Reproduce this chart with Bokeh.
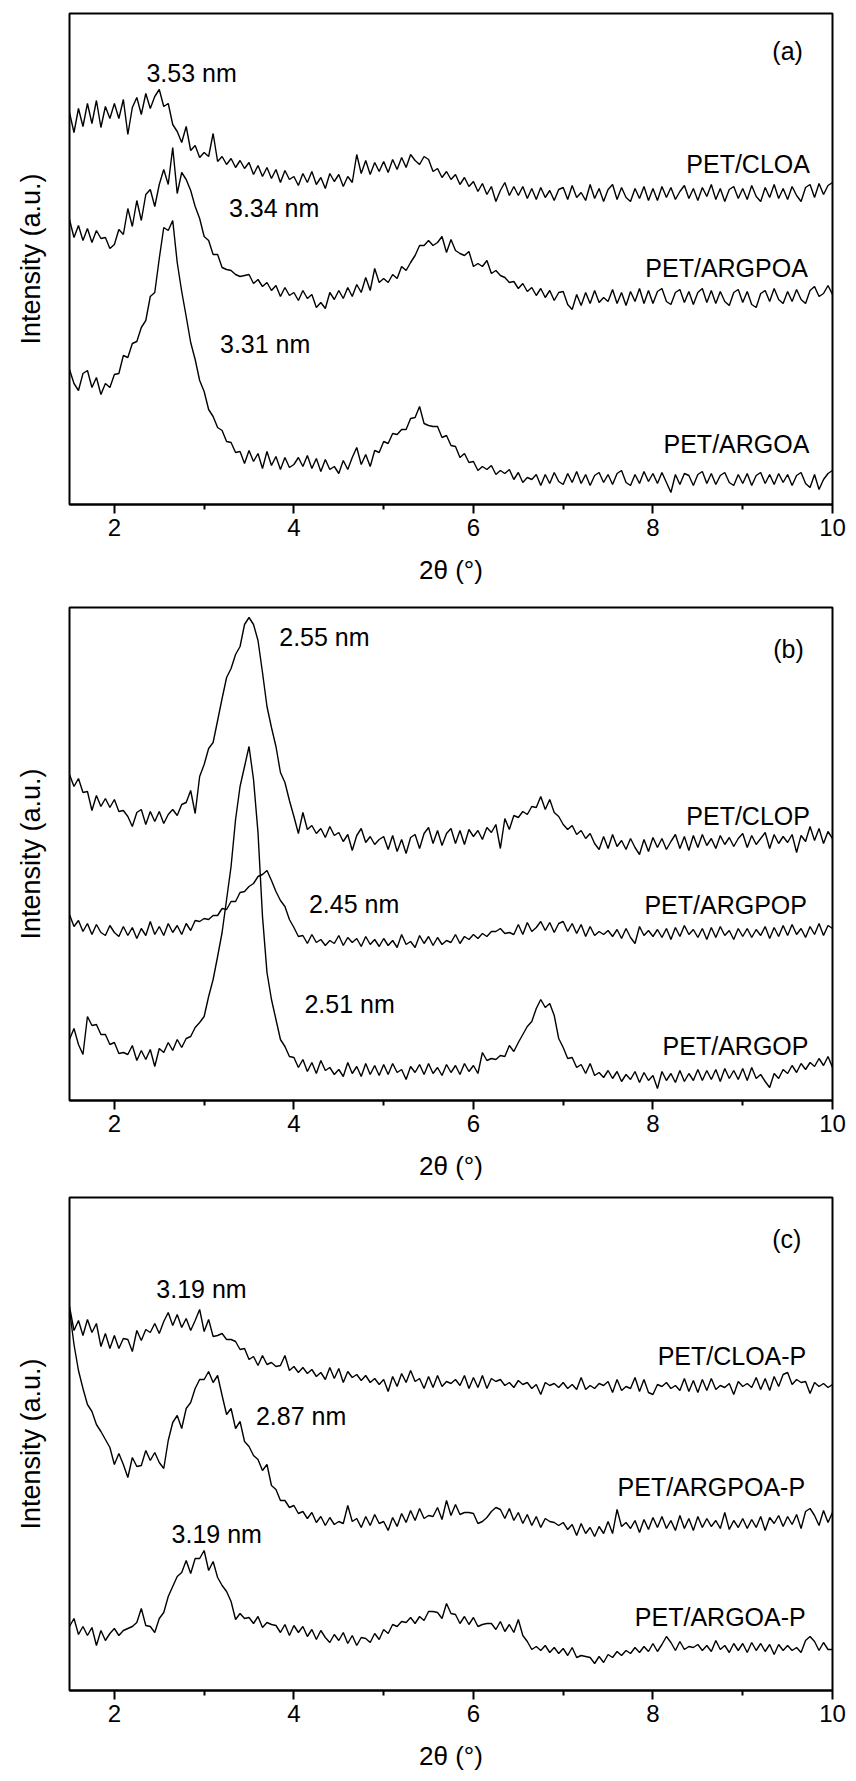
from bokeh.plotting import figure
from bokeh.layouts import column
from bokeh.models import Range1d, FixedTicker, ColumnDataSource
from bokeh.core.properties import value
from bokeh.embed import file_html
from bokeh.resources import INLINE

# 2-theta grid (degrees), step 0.05 from 1.5 to 10
two_theta = [round(1.5 + 0.05 * i, 2) for i in range(171)]

# Intensities (arbitrary units, stacked/offset as in the figure)
# ---- panel (a) ----
pet_cloa = [
    392, 372, 396, 378, 401, 381, 404, 377, 398, 386,
    401, 386, 405, 370, 397, 407, 390, 411, 396, 408,
    415, 398, 401, 380, 373, 362, 378, 354, 359, 347,
    352, 348, 371, 343, 348, 340, 346, 337, 344, 336,
    342, 330, 339, 328, 337, 326, 335, 322, 334, 325,
    328, 319, 331, 322, 333, 320, 327, 316, 331, 323,
    330, 318, 328, 322, 350, 331, 344, 330, 342, 333,
    343, 332, 345, 335, 347, 337, 350, 344, 340, 348,
    345, 333, 336, 327, 333, 325, 330, 320, 327, 318,
    323, 313, 321, 310, 318, 303, 314, 322, 309, 318,
    309, 318, 306, 316, 305, 317, 307, 314, 304, 315,
    317, 305, 319, 307, 312, 304, 320, 306, 316, 303,
    315, 320, 305, 317, 307, 303, 316, 306, 318, 304,
    316, 304, 318, 307, 317, 305, 313, 319, 306, 316,
    304, 317, 308, 320, 305, 316, 303, 315, 318, 306,
    316, 305, 319, 308, 303, 317, 307, 320, 306, 316,
    305, 318, 309, 303, 317, 320, 307, 321, 310, 319,
    322,
]
pet_argpoa = [
    285, 267, 279, 264, 276, 262, 274, 266, 267, 256,
    260, 275, 270, 296, 278, 304, 284, 310, 315, 298,
    320, 335, 320, 357, 311, 332, 325, 314, 298, 286,
    268, 264, 250, 250, 237, 235, 234, 230, 228, 229,
    230, 221, 225, 218, 222, 214, 219, 208, 217, 209,
    212, 204, 214, 206, 210, 197, 202, 196, 212, 205,
    214, 206, 217, 208, 220, 212, 227, 214, 236, 222,
    226, 222, 230, 226, 238, 234, 242, 249, 259, 259,
    264, 259, 262, 268, 252, 265, 254, 251, 249, 253,
    238, 241, 238, 244, 231, 234, 229, 227, 222, 223,
    216, 221, 213, 217, 209, 216, 207, 214, 204, 212,
    213, 200, 195, 210, 199, 212, 201, 214, 202, 207,
    203, 215, 201, 212, 199, 213, 203, 216, 201, 214,
    201, 213, 216, 203, 200, 212, 215, 202, 213, 200,
    212, 216, 202, 214, 201, 213, 203, 199, 212, 215,
    202, 213, 200, 197, 211, 214, 203, 216, 205, 201,
    213, 203, 215, 205, 201, 214, 218, 208, 211, 219,
    210,
]
pet_argoa = [
    135, 121, 114, 131, 134, 117, 127, 110, 121, 117,
    130, 131, 149, 147, 161, 163, 177, 184, 208, 212,
    246, 277, 274, 284, 242, 213, 188, 162, 145, 124,
    113, 95, 88, 77, 74, 63, 62, 52, 53, 41,
    54, 43, 51, 36, 53, 39, 48, 35, 47, 37,
    40, 47, 38, 49, 36, 46, 33, 45, 35, 38,
    31, 44, 35, 47, 57, 40, 50, 38, 54, 52,
    63, 61, 71, 70, 75, 75, 86, 87, 98, 81,
    79, 78, 78, 67, 69, 59, 58, 47, 51, 42,
    43, 34, 38, 35, 39, 30, 34, 31, 35, 25,
    32, 22, 27, 25, 30, 19, 30, 21, 32, 23,
    20, 31, 22, 33, 21, 30, 19, 29, 32, 22,
    30, 20, 31, 34, 22, 19, 30, 21, 33, 23,
    31, 21, 32, 22, 12, 30, 20, 31, 29, 19,
    30, 33, 21, 31, 20, 29, 32, 22, 19, 30,
    21, 31, 19, 29, 32, 21, 30, 20, 31, 22,
    30, 19, 29, 32, 21, 17, 30, 15, 25, 31,
    34,
]
# ---- panel (b) ----
pet_clop = [
    326, 314, 322, 308, 309, 290, 305, 294, 302, 293,
    301, 289, 290, 284, 274, 288, 291, 276, 289, 279,
    289, 277, 286, 291, 285, 296, 298, 310, 287, 324,
    336, 352, 358, 380, 402, 423, 432, 446, 454, 476,
    483, 476, 460, 428, 394, 373, 354, 328, 318, 300,
    284, 267, 288, 271, 275, 267, 272, 263, 274, 265,
    268, 259, 266, 250, 265, 272, 258, 264, 256, 261,
    264, 251, 265, 249, 261, 247, 263, 266, 252, 267,
    273, 257, 270, 255, 267, 272, 257, 270, 256, 271,
    264, 270, 261, 273, 268, 276, 252, 282, 271, 285,
    283, 289, 286, 294, 293, 304, 291, 301, 288, 284,
    276, 271, 275, 266, 270, 262, 267, 257, 251, 264,
    252, 266, 254, 260, 251, 262, 253, 246, 261, 249,
    263, 253, 262, 251, 259, 266, 252, 264, 250, 265,
    253, 266, 255, 262, 252, 265, 256, 263, 254, 262,
    267, 253, 265, 256, 262, 268, 252, 266, 257, 264,
    258, 266, 248, 265, 259, 274, 260, 272, 257, 269,
    262,
]
pet_argpop = [
    186, 174, 180, 169, 177, 166, 176, 168, 165, 175,
    168, 164, 174, 165, 173, 162, 172, 165, 179, 166,
    174, 165, 177, 168, 175, 166, 177, 170, 180, 179,
    182, 181, 185, 185, 192, 191, 199, 199, 208, 209,
    214, 217, 224, 226, 230, 220, 209, 200, 194, 181,
    173, 164, 165, 157, 166, 158, 161, 155, 160, 157,
    165, 155, 163, 158, 162, 154, 164, 156, 161, 154,
    162, 155, 160, 153, 166, 156, 159, 153, 165, 157,
    164, 155, 163, 156, 160, 158, 166, 157, 164, 161,
    166, 162, 167, 164, 169, 169, 172, 167, 168, 166,
    176, 166, 178, 169, 173, 179, 170, 178, 168, 177,
    179, 169, 177, 167, 176, 164, 174, 165, 169, 166,
    170, 164, 171, 162, 172, 163, 157, 174, 165, 170,
    164, 171, 163, 172, 161, 173, 164, 175, 166, 171,
    163, 172, 161, 173, 163, 174, 165, 170, 161, 172,
    164, 172, 163, 171, 165, 174, 162, 173, 164, 175,
    165, 176, 166, 172, 163, 174, 166, 177, 165, 175,
    172,
]
pet_argop = [
    61, 72, 56, 46, 84, 75, 76, 66, 66, 56,
    58, 47, 48, 46, 55, 40, 50, 41, 51, 34,
    52, 48, 58, 50, 61, 53, 62, 64, 73, 78,
    84, 104, 121, 144, 168, 201, 234, 281, 314, 334,
    354, 321, 268, 184, 128, 101, 81, 61, 54, 44,
    43, 33, 41, 29, 38, 27, 40, 30, 33, 26,
    31, 24, 38, 27, 34, 24, 37, 26, 35, 25,
    36, 26, 37, 28, 31, 21, 34, 28, 36, 26,
    37, 27, 33, 25, 36, 28, 35, 26, 37, 29,
    35, 27, 48, 40, 42, 41, 45, 44, 55, 49,
    58, 66, 74, 79, 92, 101, 93, 97, 85, 62,
    53, 42, 43, 33, 36, 27, 37, 25, 28, 23,
    30, 22, 29, 19, 26, 21, 29, 18, 28, 20,
    25, 12, 29, 20, 27, 18, 30, 19, 27, 20,
    31, 20, 30, 21, 31, 19, 32, 22, 30, 21,
    32, 20, 33, 22, 26, 19, 13, 27, 22, 31,
    27, 35, 28, 37, 31, 38, 34, 42, 35, 44,
    33,
]
# ---- panel (c) ----
pet_cloa_p = [
    384, 360, 370, 355, 371, 358, 367, 344, 357, 342,
    355, 342, 352, 351, 339, 360, 350, 361, 358, 367,
    357, 369, 378, 365, 376, 363, 372, 360, 370, 381,
    359, 371, 354, 355, 357, 351, 351, 349, 341, 342,
    331, 334, 325, 335, 326, 328, 324, 325, 335, 320,
    324, 318, 323, 317, 321, 314, 318, 311, 323, 312,
    322, 308, 319, 313, 316, 310, 315, 308, 312, 306,
    311, 299, 314, 304, 317, 308, 320, 309, 312, 302,
    314, 303, 315, 304, 309, 307, 311, 305, 315, 302,
    313, 303, 315, 302, 312, 309, 311, 305, 308, 303,
    310, 306, 308, 302, 306, 296, 308, 305, 307, 303,
    308, 302, 306, 301, 313, 301, 305, 302, 307, 305,
    309, 298, 311, 300, 304, 302, 313, 299, 311, 298,
    296, 306, 304, 308, 302, 305, 300, 312, 299, 310,
    298, 311, 300, 312, 301, 305, 303, 307, 296, 309,
    304, 307, 303, 313, 301, 312, 300, 314, 304, 316,
    318, 306, 311, 308, 309, 297, 308, 304, 307, 303,
    306,
]
pet_argpoa_p = [
    381, 346, 320, 302, 286, 279, 266, 259, 251, 243,
    226, 237, 226, 213, 233, 224, 225, 240, 230, 238,
    228, 222, 250, 268, 275, 262, 282, 288, 302, 311,
    311, 319, 308, 315, 295, 276, 282, 262, 269, 249,
    244, 235, 231, 220, 226, 205, 201, 190, 190, 183,
    185, 177, 179, 172, 178, 168, 174, 165, 173, 166,
    169, 167, 185, 169, 172, 163, 174, 165, 176, 167,
    169, 160, 173, 164, 177, 168, 180, 170, 182, 172,
    175, 174, 183, 171, 190, 175, 186, 176, 178, 178,
    177, 167, 169, 173, 179, 183, 181, 172, 182, 170,
    178, 167, 176, 165, 174, 163, 172, 169, 168, 165,
    168, 161, 166, 155, 167, 157, 163, 154, 164, 157,
    169, 157, 181, 164, 168, 162, 170, 158, 171, 161,
    173, 163, 174, 162, 170, 160, 175, 162, 172, 160,
    174, 163, 172, 164, 170, 162, 178, 161, 170, 163,
    172, 162, 171, 163, 174, 160, 173, 167, 175, 164,
    174, 166, 176, 162, 179, 182, 175, 165, 180, 168,
    178,
]
pet_argoa_p = [
    64, 72, 56, 64, 55, 63, 45, 60, 50, 57,
    62, 55, 60, 62, 64, 68, 82, 65, 64, 58,
    72, 78, 94, 104, 114, 118, 130, 117, 132, 132,
    140, 120, 129, 113, 105, 99, 89, 71, 77, 72,
    73, 67, 74, 63, 68, 66, 65, 58, 66, 55,
    65, 58, 64, 54, 61, 51, 60, 53, 48, 56,
    50, 58, 47, 55, 45, 53, 52, 48, 57, 51,
    61, 57, 66, 64, 69, 68, 73, 67, 74, 70,
    79, 79, 78, 72, 87, 77, 76, 67, 74, 66,
    73, 64, 66, 67, 67, 61, 69, 59, 66, 58,
    71, 55, 49, 41, 44, 40, 45, 38, 43, 37,
    42, 35, 43, 33, 35, 34, 33, 27, 34, 28,
    36, 33, 39, 35, 40, 37, 43, 38, 44, 39,
    47, 39, 46, 54, 48, 40, 49, 41, 44, 43,
    46, 40, 45, 39, 50, 41, 45, 38, 47, 40,
    47, 38, 48, 40, 47, 39, 46, 36, 46, 40,
    45, 40, 43, 38, 50, 54, 49, 40, 48, 41,
    41,
]

# Text labels: (text, x anchor in 2theta, y anchor in intensity units)
labels_a = [("3.53 nm", 2.86, 432), ("3.34 nm", 3.78, 297), ("3.31 nm", 3.68, 161),
            ("PET/CLOA", 9.06, 341), ("PET/ARGPOA", 8.82, 237), ("PET/ARGOA", 8.93, 61),
            ("(a)", 9.50, 454)]
labels_b = [("2.55 nm", 4.34, 464), ("2.45 nm", 4.67, 197), ("2.51 nm", 4.62, 97),
            ("PET/CLOP", 9.06, 285), ("PET/ARGPOP", 8.81, 196), ("PET/ARGOP", 8.92, 55),
            ("(b)", 9.51, 452)]
labels_c = [("3.19 nm", 2.97, 402), ("2.87 nm", 4.08, 275), ("3.19 nm", 3.14, 157),
            ("PET/CLOA-P", 8.88, 335), ("PET/ARGPOA-P", 8.65, 204), ("PET/ARGOA-P", 8.75, 74),
            ("(c)", 9.49, 452)]

x_ticks = [2, 4, 6, 8, 10]
x_minor = [3, 5, 7, 9]

for s in (pet_cloa, pet_argpoa, pet_argoa, pet_clop, pet_argpop, pet_argop,
          pet_cloa_p, pet_argpoa_p, pet_argoa_p):
    assert len(s) == len(two_theta)

FONT = "Liberation Sans"


def make_panel(series, labels, height, ymax, top, bottom, left, right):
    p = figure(width=856, height=height, x_range=Range1d(1.5, 10), y_range=Range1d(0, ymax),
               output_backend="svg", toolbar_location=None,
               min_border_left=left, min_border_right=right,
               min_border_top=top, min_border_bottom=bottom)
    p.background_fill_color = "white"
    p.border_fill_color = "white"
    p.grid.visible = False
    p.outline_line_color = "black"
    p.outline_line_width = 2
    for s in series:
        p.line(two_theta, s, line_color="black", line_width=1.4)
    src = ColumnDataSource(dict(t=[l[0] for l in labels], x=[l[1] for l in labels],
                                y=[l[2] for l in labels]))
    p.text(x="x", y="y", text="t", source=src, text_font=value(FONT),
           text_font_size="25px", text_align="center", text_baseline="middle",
           text_color="black")
    ax = p.xaxis[0]
    ax.ticker = FixedTicker(ticks=x_ticks, minor_ticks=x_minor)
    ax.major_tick_out = 9
    ax.major_tick_in = 0
    ax.minor_tick_out = 5
    ax.minor_tick_in = 0
    ax.major_tick_line_width = 2
    ax.minor_tick_line_width = 2
    ax.axis_line_width = 2
    ax.major_label_text_font = FONT
    ax.major_label_text_font_size = "24px"
    ax.major_label_text_color = "black"
    ax.major_label_standoff = 5
    ax.axis_label = "2θ (°)"
    ax.axis_label_text_font = FONT
    ax.axis_label_text_font_size = "26px"
    ax.axis_label_text_font_style = "normal"
    ax.axis_label_text_color = "black"
    ax.axis_label_standoff = 16
    ay = p.yaxis[0]
    ay.ticker = FixedTicker(ticks=[])
    ay.axis_line_color = None
    ay.major_tick_line_color = None
    ay.minor_tick_line_color = None
    ay.axis_label = "Intensity (a.u.)"
    ay.axis_label_text_font = FONT
    ay.axis_label_text_font_size = "27px"
    ay.axis_label_text_font_style = "normal"
    ay.axis_label_text_color = "black"
    ay.axis_label_standoff = 24
    return p


pa = make_panel([pet_cloa, pet_argpoa, pet_argoa], labels_a, 595, 491, 13, 91, 69, 19)
pb = make_panel([pet_clop, pet_argpop, pet_argop], labels_b, 596, 493, 12, 91, 65, 24)
pc = make_panel([pet_cloa_p, pet_argpoa_p, pet_argoa_p], labels_c, 590, 493, 6, 91, 69, 19)

layout = column(pa, pb, pc, spacing=0)
open("out.html", "w").write(file_html(layout, INLINE))
